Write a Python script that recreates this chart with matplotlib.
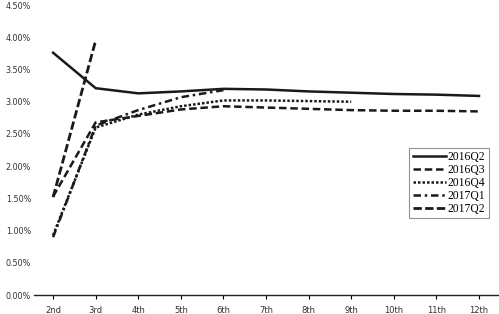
import matplotlib
matplotlib.use("Agg")
import matplotlib.pyplot as plt
from matplotlib.ticker import FuncFormatter

# 데이터
periods = ["2nd", "3rd", "4th", "5th", "6th", "7th", "8th", "9th", "10th", "11th", "12th"]
q2016_2 = [3.76, 3.21, 3.13, 3.16, 3.20, 3.19, 3.16, 3.14, 3.12, 3.11, 3.09]
q2016_3 = [1.53, 2.68, 2.78, 2.88, 2.93, 2.91, 2.89, 2.87, 2.86, 2.86, 2.85]
q2016_4 = [0.93, 2.60, 2.80, 2.93, 3.02, 3.02, 3.01, 3.00]
q2017_1 = [0.90, 2.63, 2.87, 3.07, 3.18]
q2017_2 = [1.52, 3.95]

fig = plt.figure(figsize=(4.99, 3.14), dpi=100)
ax = fig.add_axes([0.068, 0.06, 0.932, 0.924])

x = list(range(len(periods)))
ax.plot(x[:len(q2016_2)], q2016_2, color="#1a1a1a", lw=1.8, label="2016Q2")
ax.plot(x[:len(q2016_3)], q2016_3, color="#1a1a1a", lw=1.8, dashes=(3, 1.5), label="2016Q3")
ax.plot(x[:len(q2016_4)], q2016_4, color="#1a1a1a", lw=1.8, dashes=(1, 0.8), label="2016Q4")
ax.plot(x[:len(q2017_1)], q2017_1, color="#1a1a1a", lw=1.8, dashes=(3, 1.5, 1, 1.5), label="2017Q1")
ax.plot(x[:len(q2017_2)], q2017_2, color="#1a1a1a", lw=2.0, dashes=(3, 1.2), label="2017Q2")

ax.set_xlim(-0.45, 10.47)
ax.set_ylim(0, 4.5)
ax.set_yticks([i * 0.5 for i in range(10)])
ax.yaxis.set_major_formatter(FuncFormatter(lambda v, p: f"{v:.2f}%"))
ax.set_xticks(x)
ax.set_xticklabels(periods)

for s in ["top", "right", "left"]:
    ax.spines[s].set_visible(False)
ax.spines["bottom"].set_color("#222222")
ax.spines["bottom"].set_linewidth(1.0)
ax.tick_params(axis="y", length=0, labelsize=5.8, pad=2)
ax.tick_params(axis="x", length=3, direction="out", labelsize=6.0, pad=5)
for lab in ax.get_xticklabels() + ax.get_yticklabels():
    lab.set_color("#333333")

leg = ax.legend(loc="upper left", bbox_to_anchor=(409 / 499, 1 - 148 / 314),
                bbox_transform=fig.transFigure, frameon=True, fancybox=False,
                prop={"family": "Liberation Serif", "size": 8.4},
                handlelength=2.9, handletextpad=0.1, labelspacing=0.07,
                borderpad=0.3, borderaxespad=0)
leg.get_frame().set_edgecolor("#777777")
leg.get_frame().set_linewidth(0.8)

fig.savefig("out.png", dpi=100)
